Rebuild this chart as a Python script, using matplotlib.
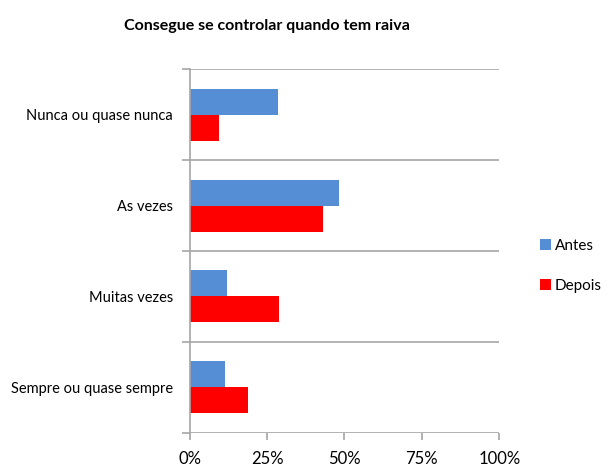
import matplotlib.pyplot as plt
import numpy as np

plt.rcParams['font.family'] = ['Lato', 'DejaVu Sans']

categories = ['Nunca ou quase nunca', 'As vezes', 'Muitas vezes', 'Sempre ou quase sempre']
antes = [28.6, 48.1, 12.2, 11.3]
depois = [9.5, 43.2, 28.8, 18.7]
xticks = [0, 25, 50, 75, 100]
xtick_labels = ['0%', '25%', '50%', '75%', '100%']

blue = '#558ED5'
red = '#FF0000'
grid_c = '#A6A6A6'

fig = plt.figure(figsize=(6.1, 4.73), dpi=100)
ax = fig.add_axes([0.311, 0.0852, 0.5075, 0.7683])

y = np.arange(len(categories)) + 0.5
h = 0.286
ax.barh(y - h / 2, antes, height=h, color=blue, label='Antes')
ax.barh(y + h / 2, depois, height=h, color=red, label='Depois')

ax.set_xlim(0, 100)
ax.set_ylim(len(categories), 0)

# category boundaries as gridlines
ax.set_yticks(np.arange(len(categories) + 1))
ax.set_yticklabels([])
ax.set_yticks(y, minor=True)
ax.set_yticklabels(categories, minor=True, fontsize=10.5)
ax.tick_params(axis='y', which='minor', length=0, pad=12)
ax.tick_params(axis='y', which='major', length=6, color=grid_c, width=1.2)
ax.grid(axis='y', which='major', color=grid_c, linewidth=1.2)
ax.set_axisbelow(True)

ax.set_xticks(xticks)
ax.set_xticklabels(xtick_labels, fontsize=12)
ax.tick_params(axis='x', length=5, color=grid_c, width=1.2, pad=8)

for s in ['top', 'right', 'bottom']:
    ax.spines[s].set_visible(False)
ax.spines['left'].set_color(grid_c)
ax.spines['left'].set_linewidth(1.2)

fig.text(0.438, 0.945, 'Consegue se controlar quando tem raiva', ha='center', va='center',
         fontsize=11.5, fontweight='bold')

fig.legend(loc='center left', bbox_to_anchor=(0.868, 0.438), frameon=False, fontsize=11,
           handlelength=0.7, handleheight=0.7, handletextpad=0.25, labelspacing=1.7,
           borderpad=0.2)

fig.savefig('out.png', dpi=100)
